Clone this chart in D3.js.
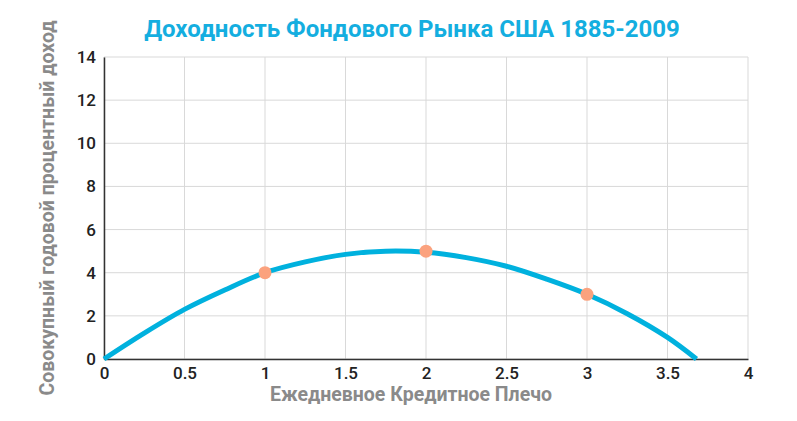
<!DOCTYPE html>
<html><head><meta charset="utf-8">
<script src="https://cdn.jsdelivr.net/npm/d3@7"></script>
<style>body{margin:0;background:#fff;font-family:Roboto,sans-serif}</style>
</head><body>
<script>
var xTicks = [0, 0.5, 1, 1.5, 2, 2.5, 3, 3.5, 4];
var yTicks = [0, 2, 4, 6, 8, 10, 12, 14];
var curveX = [0, 0.25, 0.5, 0.75, 1, 1.25, 1.5, 1.75, 2, 2.25, 2.5, 2.75, 3, 3.25, 3.5, 3.68];
var curveY = [0, 1.2, 2.3, 3.2, 4, 4.5, 4.85, 5.0, 4.95, 4.7, 4.3, 3.7, 3, 2.1, 1.0, 0];
var pointX = [1, 2, 3];
var pointY = [4, 5, 3];

var width = 797, height = 421;
var margin = {left: 104, right: 49, top: 57, bottom: 62};
var svg = d3.select("body").append("svg").attr("width", width).attr("height", height);

var x = d3.scaleLinear().domain([0, 4]).range([margin.left, width - margin.right]);
var y = d3.scaleLinear().domain([0, 14]).range([height - margin.bottom, margin.top]);

// grid
svg.append("g").selectAll("line").data(xTicks).enter().append("line")
    .attr("x1", d => x(d)).attr("x2", d => x(d))
    .attr("y1", y(0)).attr("y2", y(14))
    .attr("stroke", "#d9d9d9");
svg.append("g").selectAll("line").data(yTicks).enter().append("line")
    .attr("x1", x(0)).attr("x2", x(4))
    .attr("y1", d => y(d)).attr("y2", d => y(d))
    .attr("stroke", "#d9d9d9");

var xAxis = svg.append("g").attr("transform", "translate(0," + y(0) + ")")
    .call(d3.axisBottom(x).tickValues(xTicks).tickSize(0).tickPadding(8).tickFormat(d3.format("")));
var yAxis = svg.append("g").attr("transform", "translate(" + x(0) + ",0)")
    .call(d3.axisLeft(y).tickValues(yTicks).tickSize(0).tickPadding(8));
[xAxis, yAxis].forEach(function(a){
    a.select(".domain").attr("stroke", "#333").attr("stroke-width", 1.5);
    a.selectAll("text").attr("font-family", "Roboto").attr("font-size", 17)
        .attr("font-weight", 500).attr("fill", "#222");
});

var line = d3.line().x(d => x(d[0])).y(d => y(d[1])).curve(d3.curveCatmullRom);
svg.append("path").datum(curveX.map((v, i) => [v, curveY[i]]))
    .attr("d", line).attr("fill", "none").attr("stroke", "#00b1de").attr("stroke-width", 5);

svg.append("g").selectAll("circle").data(pointX).enter().append("circle")
    .attr("cx", d => x(d)).attr("cy", (d, i) => y(pointY[i])).attr("r", 6.5)
    .attr("fill", "#fba27e");

svg.append("text").attr("x", 412).attr("y", 37).attr("text-anchor", "middle")
    .attr("font-size", 24).attr("font-weight", "bold").attr("fill", "#14aee0")
    .text("Доходность Фондового Рынка США 1885-2009");
svg.append("text").attr("x", 411).attr("y", 401).attr("text-anchor", "middle")
    .attr("font-size", 19.5).attr("font-weight", "bold").attr("fill", "#8a8a8a")
    .text("Ежедневное Кредитное Плечо");
svg.append("text").attr("transform", "translate(54,208) rotate(-90)")
    .attr("text-anchor", "middle")
    .attr("font-size", 19.5).attr("font-weight", "bold").attr("fill", "#8a8a8a")
    .text("Совокупный годовой процентный доход");
</script>
</body></html>
